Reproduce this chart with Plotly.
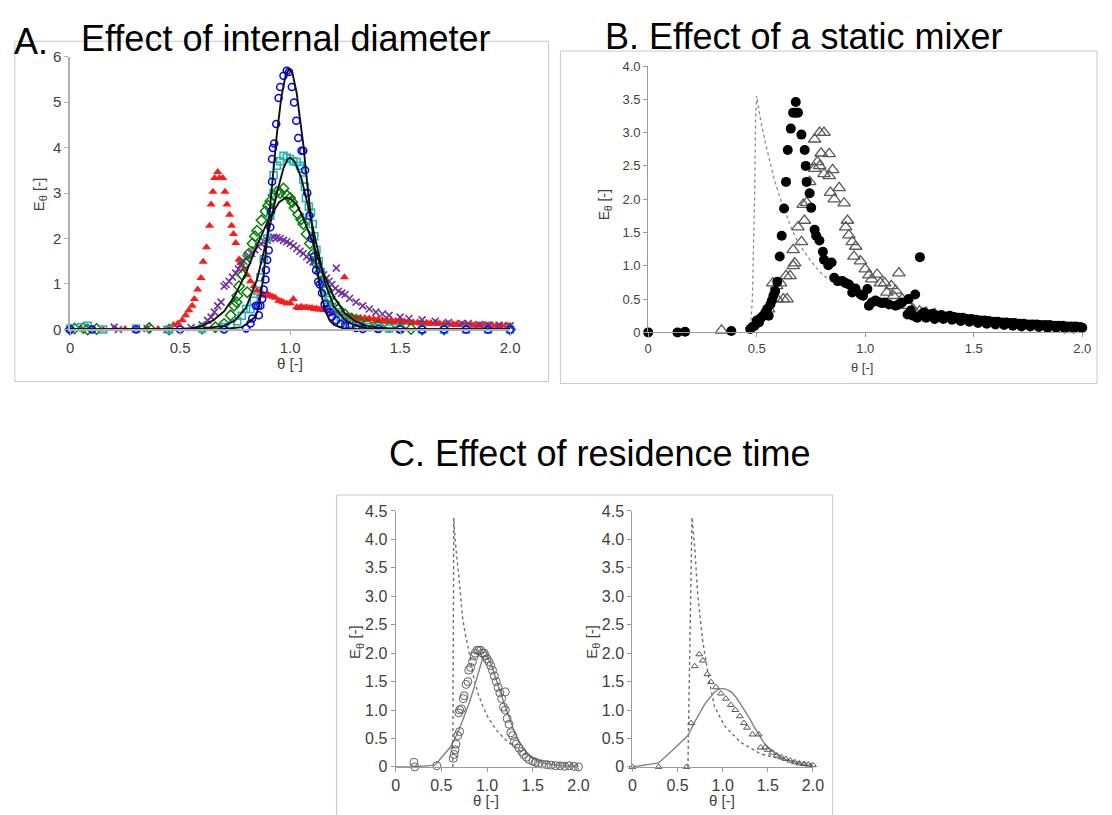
import plotly.graph_objects as go

# ---------------- DATA ----------------
TICK_A_X = [0, 0.5, 1.0, 1.5, 2.0]
TICK_A_X_TEXT = ["0", "0.5", "1.0", "1.5", "2.0"]
TICK_A_Y = [0, 1, 2, 3, 4, 5, 6]
TICK_A_Y_TEXT = ["0", "1", "2", "3", "4", "5", "6"]
TICK_B_Y = [0, 0.5, 1.0, 1.5, 2.0, 2.5, 3.0, 3.5, 4.0]
TICK_B_Y_TEXT = ["0", "0.5", "1.0", "1.5", "2.0", "2.5", "3.0", "3.5", "4.0"]
TICK_C_Y = [0, 0.5, 1.0, 1.5, 2.0, 2.5, 3.0, 3.5, 4.0, 4.5]
TICK_C_Y_TEXT = ["0", "0.5", "1.0", "1.5", "2.0", "2.5", "3.0", "3.5", "4.0", "4.5"]

# Panel A: effect of internal diameter (theta, E)
A_RED = [(0.00,0.00),(0.05,0.02),(0.10,0.01),(0.15,0.00),(0.20,0.02),(0.25,0.01),(0.30,0.00),(0.35,0.02),(0.40,0.01),(0.45,0.03),
         (0.47,0.10),(0.49,0.13),(0.51,0.20),(0.525,0.31),(0.54,0.42),(0.555,0.52),(0.565,0.67),(0.58,0.88),(0.595,1.13),(0.605,1.49),
         (0.62,1.81),(0.634,2.28),(0.641,2.75),(0.649,3.03),(0.657,3.33),(0.671,3.46),(0.679,3.33),(0.694,3.33),(0.704,3.03),(0.713,2.75),
         (0.725,2.52),(0.734,2.28),(0.743,2.10),(0.753,1.90),(0.768,1.54),(0.776,1.46),(0.79,1.33),(0.805,1.20),(0.82,1.06),(0.836,0.95),
         (0.85,0.85),(0.865,0.77),(0.876,0.78),(0.888,0.74),(0.90,0.77),(0.91,0.74),(0.922,0.72),(0.933,0.70),(0.948,0.63),(0.96,0.62),
         (0.97,0.60),(0.985,0.57),(1.00,0.58),(1.015,0.67),(1.03,0.49),(1.04,0.47),(1.05,0.50),(1.063,0.48),(1.075,0.49),(1.088,0.47),
         (1.10,0.47),(1.11,0.45),(1.12,0.46),(1.13,0.44),(1.14,0.44),(1.155,0.43),(1.17,0.42),(1.185,0.40),(1.20,0.37),(1.22,0.35),
         (1.247,1.15),(1.24,0.33),(1.26,0.30),(1.28,0.28),(1.30,0.27),(1.32,0.26),(1.34,0.25),(1.36,0.24),(1.38,0.23),(1.40,0.22),
         (1.42,0.21),(1.44,0.21),(1.46,0.20),(1.48,0.19),(1.50,0.18),(1.52,0.18),(1.54,0.17),(1.56,0.16),(1.58,0.16),(1.60,0.15),
         (1.62,0.15),(1.64,0.14),(1.66,0.14),(1.68,0.13),(1.70,0.13),(1.72,0.12),(1.74,0.12),(1.76,0.12),(1.78,0.11),(1.80,0.11),
         (1.82,0.11),(1.84,0.10),(1.86,0.10),(1.88,0.10),(1.90,0.10),(1.92,0.09),(1.94,0.09),(1.96,0.09),(1.98,0.09),(2.00,0.08),
         (1.25,0.25),(1.27,0.22),(1.31,0.20),(1.35,0.20),(1.39,0.18),(1.43,0.17),(1.47,0.15),(1.51,0.15),(1.55,0.14),(1.59,0.13),
         (1.63,0.12),(1.67,0.12),(1.71,0.10),(1.75,0.10),(1.79,0.09),(1.83,0.08),(1.87,0.08),(1.91,0.07),(1.95,0.07),(1.99,0.06)]
A_BLUE = [(0.00,0.00),(0.10,0.00),(0.30,0.00),(0.50,0.00),(0.70,0.00),(0.80,0.02),(0.82,0.13),(0.828,0.24),(0.845,0.52),(0.855,0.52),
          (0.865,0.52),(0.858,0.31),(0.873,0.67),(0.88,0.88),(0.888,1.10),(0.89,1.31),(0.896,1.53),(0.903,1.74),(0.91,2.25),(0.914,2.60),
          (0.918,3.25),(0.918,3.75),(0.922,3.99),(0.928,4.09),(0.937,4.52),(0.948,5.09),(0.955,5.33),(0.97,5.58),(0.985,5.69),(0.995,5.66),
          (1.008,5.33),(1.018,4.99),(1.028,4.59),(1.037,4.21),(1.052,3.93),(1.06,3.93),(1.068,3.50),(1.078,3.00),(1.088,2.50),(1.098,2.00),
          (1.108,1.60),(1.118,1.30),(1.128,1.05),(1.135,0.99),(1.145,0.80),(1.157,0.56),(1.168,0.45),(1.18,0.38),(1.19,0.28),(1.21,0.20),
          (1.23,0.12),(1.25,0.08),(1.27,0.06),(1.30,0.03),(1.33,0.01),(1.40,0.01),(1.50,0.00),(1.60,0.00),(1.70,0.00),(1.80,0.00),
          (1.90,0.00),(2.00,0.00)]
A_CYAN = [(0.00,0.02),(0.05,0.05),(0.08,0.08),(0.15,0.00),(0.30,0.02),(0.45,0.00),(0.60,0.02),(0.70,0.05),(0.73,0.10),(0.76,0.18),
          (0.78,0.30),(0.80,0.45),(0.82,0.45),(0.835,0.63),(0.85,0.85),(0.865,1.15),(0.88,1.55),(0.895,2.00),(0.91,2.50),(0.925,3.00),
          (0.925,3.39),(0.94,3.60),(0.955,3.70),(0.97,3.82),(0.985,3.78),(1.00,3.75),(1.015,3.70),(1.03,3.68),(1.045,3.60),(1.052,3.54),
          (1.06,3.30),(1.067,3.14),(1.072,2.89),(1.085,2.70),(1.095,2.57),(1.103,2.32),(1.11,2.05),(1.12,1.75),(1.13,1.50),(1.14,1.25),
          (1.15,1.02),(1.16,0.85),(1.175,0.65),(1.19,0.50),(1.21,0.38),(1.23,0.28),(1.25,0.20),(1.28,0.13),(1.31,0.08),(1.35,0.05),
          (1.40,0.03),(1.45,0.02),(1.50,0.01),(1.60,0.00),(1.70,0.00),(1.80,0.00),(1.90,0.00),(2.00,0.00)]
A_GREEN = [(0.00,0.00),(0.02,0.02),(0.04,-0.02),(0.06,0.03),(0.08,0.00),(0.12,0.01),(0.36,0.03),(0.45,0.00),(0.52,-0.05),(0.60,0.02),
           (0.66,0.05),(0.70,0.12),(0.73,0.31),(0.746,0.52),(0.76,0.74),(0.768,0.95),(0.783,1.20),(0.798,1.46),(0.813,1.67),(0.829,1.89),
           (0.84,2.05),(0.85,2.17),(0.87,2.40),(0.888,2.60),(0.90,2.72),(0.91,2.82),(0.925,2.95),(0.94,3.03),(0.955,3.00),(0.97,3.10),
           (0.985,2.95),(1.00,2.89),(1.01,2.80),(1.02,2.67),(1.037,2.53),(1.05,2.42),(1.06,2.32),(1.075,2.10),(1.09,1.89),(1.105,1.67),
           (1.12,1.45),(1.135,1.25),(1.15,1.05),(1.165,0.88),(1.18,0.72),(1.20,0.58),(1.22,0.45),(1.25,0.33),(1.28,0.24),(1.31,0.18),
           (1.35,0.12),(1.40,0.08),(1.45,0.05),(1.50,0.03),(1.55,0.01),(1.60,0.00),(1.65,-0.01),(1.70,0.00),(1.75,-0.02),(1.80,-0.01),
           (1.85,-0.02),(1.90,-0.01),(1.95,-0.02),(2.00,0.00),(0.805,0.82),(0.757,0.60)]
A_PURPLE = [(0.20,0.05),(0.22,0.00),(0.35,0.02),(0.44,0.00),(0.55,0.04),(0.60,0.10),(0.625,0.20),(0.641,0.27),(0.656,0.38),(0.671,0.52),
            (0.686,0.60),(0.70,0.95),(0.709,0.99),(0.723,1.06),(0.738,1.15),(0.753,1.24),(0.765,1.33),(0.776,1.42),(0.79,1.50),(0.80,1.56),
            (0.812,1.62),(0.825,1.67),(0.84,1.75),(0.855,1.82),(0.868,1.89),(0.882,1.93),(0.896,1.96),(0.91,2.00),(0.925,2.03),(0.94,2.02),
            (0.955,2.00),(0.97,1.96),(0.985,1.93),(1.00,1.89),(1.015,1.84),(1.03,1.78),(1.045,1.72),(1.06,1.67),(1.075,1.60),(1.09,1.53),
            (1.105,1.48),(1.12,1.42),(1.13,1.35),(1.14,1.28),(1.152,1.20),(1.165,1.13),(1.177,1.06),(1.19,0.99),(1.21,1.35),(1.205,0.90),
            (1.22,0.84),(1.235,0.80),(1.25,0.77),(1.27,0.68),(1.30,0.60),(1.33,0.52),(1.36,0.45),(1.39,0.38),(1.42,0.34),(1.45,0.31),
            (1.50,0.27),(1.54,0.24),(1.60,0.21),(1.66,0.18),(1.72,0.15),(1.78,0.13),(1.81,0.13),(1.86,0.11),(1.90,0.10),(1.95,0.09),(2.00,0.08)]
A_FIT1 = [(0.00,0.00),(0.50,0.00),(0.70,0.01),(0.78,0.05),(0.82,0.18),(0.845,0.30),(0.86,0.55),(0.88,1.20),(0.90,2.20),(0.92,3.20),
          (0.94,4.30),(0.96,5.10),(0.98,5.60),(0.995,5.72),(1.01,5.65),(1.03,5.20),(1.05,4.50),(1.06,4.07),(1.08,3.10),(1.10,2.20),
          (1.12,1.40),(1.14,0.80),(1.16,0.42),(1.18,0.20),(1.20,0.10),(1.24,0.03),(1.30,0.01),(1.40,0.00),(2.00,0.00)]
A_FIT2 = [(0.00,0.00),(0.50,0.00),(0.60,0.02),(0.70,0.08),(0.75,0.20),(0.80,0.48),(0.85,1.10),(0.90,2.10),(0.94,3.00),(0.97,3.55),
          (0.99,3.75),(1.00,3.78),(1.02,3.70),(1.05,3.35),(1.08,2.75),(1.10,2.30),(1.13,1.60),(1.16,1.00),(1.20,0.50),(1.25,0.20),
          (1.30,0.08),(1.35,0.03),(1.45,0.00),(2.00,0.00)]
A_FIT3 = [(0.00,0.00),(0.45,0.00),(0.55,0.03),(0.60,0.08),(0.65,0.20),(0.70,0.40),(0.75,0.75),(0.80,1.25),(0.85,1.85),(0.90,2.40),
          (0.95,2.80),(0.98,2.90),(1.00,2.88),(1.03,2.75),(1.06,2.45),(1.10,1.95),(1.15,1.25),(1.20,0.70),(1.25,0.35),(1.30,0.17),
          (1.35,0.08),(1.40,0.04),(1.50,0.01),(2.00,0.00)]

# Panel B: effect of a static mixer
B_CIRCLES = [(0.00,0.00),(0.135,0.00),(0.17,0.01),(0.383,0.02),(0.47,0.05),(0.48,0.08),(0.49,0.10),(0.50,0.18),(0.51,0.15),(0.52,0.22),
             (0.53,0.25),(0.54,0.30),(0.548,0.35),(0.555,0.25),(0.563,0.42),(0.57,0.48),(0.577,0.55),(0.585,0.62),(0.595,0.76),(0.606,1.14),
             (0.615,1.45),(0.626,1.86),(0.635,2.26),(0.643,2.74),(0.657,3.06),(0.668,3.30),(0.68,3.46),(0.68,3.30),(0.69,3.30),(0.706,2.97),
             (0.721,2.74),(0.726,2.50),(0.73,2.26),(0.744,2.09),(0.751,1.87),(0.767,1.54),(0.774,1.45),(0.789,1.38),(0.805,1.21),(0.81,1.09),
             (0.83,1.01),(0.845,1.05),(0.857,0.82),(0.873,0.77),(0.895,0.77),(0.91,0.74),(0.925,0.72),(0.94,0.60),(0.955,0.66),(0.979,0.57),
             (0.99,0.55),(1.01,0.65),(1.017,0.40),(1.03,0.45),(1.047,0.48),(1.06,0.46),(1.077,0.44),(1.09,0.45),(1.11,0.42),(1.14,0.40),
             (1.155,0.42),(1.17,0.45),(1.195,0.27),(1.20,0.50),(1.21,0.33),(1.23,0.57),(1.252,1.13),(1.22,0.25),(1.24,0.22),(1.26,0.27),
             (1.27,0.30),(1.29,0.27),(1.31,0.28),(1.33,0.25),(1.35,0.26),(1.37,0.24),(1.39,0.25),(1.41,0.23),(1.43,0.22),(1.45,0.22),
             (1.47,0.20),(1.49,0.20),(1.51,0.19),(1.53,0.18),(1.55,0.18),(1.57,0.17),(1.59,0.16),(1.61,0.16),(1.63,0.15),(1.65,0.15),
             (1.67,0.14),(1.69,0.14),(1.71,0.13),(1.73,0.13),(1.75,0.12),(1.77,0.12),(1.79,0.12),(1.81,0.11),(1.83,0.11),(1.85,0.11),
             (1.87,0.10),(1.89,0.10),(1.91,0.10),(1.93,0.09),(1.95,0.09),(1.97,0.09),(1.99,0.08),(2.00,0.07),
             (1.28,0.22),(1.32,0.20),(1.36,0.20),(1.40,0.19),(1.44,0.17),(1.48,0.16),(1.52,0.14),(1.56,0.13),(1.60,0.12),(1.64,0.11),
             (1.68,0.10),(1.72,0.09),(1.76,0.09),(1.80,0.08),(1.84,0.07),(1.88,0.07),(1.92,0.06),(1.96,0.06)]
B_TRIANGLES = [(0.338,0.03),(0.555,0.35),(0.574,0.74),(0.592,0.70),(0.61,0.74),(0.595,0.50),(0.623,0.50),(0.64,0.50),(0.635,0.85),(0.654,0.85),
               (0.668,1.00),(0.675,1.04),(0.668,1.24),(0.706,1.36),(0.69,1.58),(0.72,1.68),(0.714,1.92),(0.73,1.95),(0.744,2.26),(0.767,2.46),
               (0.78,2.56),(0.797,2.69),(0.79,2.50),(0.81,2.38),(0.834,2.35),(0.767,2.90),(0.79,3.00),(0.81,3.00),(0.834,2.68),(0.85,2.44),
               (0.84,2.10),(0.857,2.00),(0.88,2.17),(0.903,1.94),(0.918,1.68),(0.91,1.58),(0.925,1.46),(0.94,1.36),(0.956,1.29),(0.948,1.14),
               (0.978,1.07),(1.00,0.95),(1.017,0.86),(1.03,0.80),(1.055,0.87),(1.07,0.74),(1.09,0.74),(1.12,0.70),(1.155,0.89),(1.14,0.63),
               (1.10,0.60),(1.13,0.55),(1.17,0.50),(1.20,0.40),(1.22,0.35),(1.25,0.32),(1.28,0.30),(1.32,0.28)]
B_MODEL = [(0.47,0.00),(0.48,0.50),(0.49,2.00),(0.495,3.20),(0.50,3.55),(0.51,3.35),(0.52,3.15),(0.54,2.85),(0.56,2.55),(0.58,2.30),
           (0.60,2.10),(0.62,1.90),(0.65,1.65),(0.68,1.42),(0.70,1.30),(0.72,1.20),(0.75,1.07),(0.78,0.95),(0.80,0.88),(0.83,0.80)]

# Panel C: effect of residence time (left and right)
C1_CIRCLES = [(0.20,0.08),(0.21,0.00),(0.45,0.02),(0.63,0.15),(0.64,0.22),(0.65,0.30),(0.66,0.40),(0.68,0.55),(0.70,0.62),(0.69,0.95),
              (0.70,1.00),(0.72,1.02),(0.74,1.20),(0.75,1.25),(0.77,1.45),(0.79,1.50),(0.80,1.70),(0.82,1.75),(0.84,1.85),(0.86,1.95),
              (0.87,2.00),(0.89,2.05),(0.91,2.05),(0.93,2.05),(0.95,2.00),(0.97,2.00),(0.98,1.95),(1.00,1.90),(1.02,1.85),(1.04,1.78),
              (1.06,1.70),(1.08,1.60),(1.10,1.50),(1.12,1.40),(1.14,1.30),(1.16,1.20),(1.20,1.32),(1.18,1.05),(1.20,1.00),(1.22,0.85),
              (1.24,0.75),(1.26,0.60),(1.28,0.55),(1.30,0.45),(1.32,0.40),(1.35,0.33),(1.38,0.27),(1.40,0.22),(1.43,0.17),(1.46,0.13),
              (1.50,0.10),(1.53,0.08),(1.56,0.06),(1.60,0.05),(1.65,0.04),(1.70,0.03),(1.75,0.02),(1.80,0.02),(1.85,0.01),(1.90,0.02),
              (1.95,0.01),(2.00,0.00)]
C1_FIT = [(0.00,0.00),(0.20,0.00),(0.43,0.03),(0.60,0.35),(0.68,0.60),(0.75,0.88),(0.80,1.10),(0.85,1.35),(0.90,1.62),(0.95,1.90),
          (0.97,1.96),(1.00,1.94),(1.05,1.78),(1.10,1.55),(1.15,1.30),(1.20,1.05),(1.25,0.82),(1.30,0.62),(1.35,0.45),(1.40,0.32),
          (1.45,0.22),(1.50,0.15),(1.60,0.07),(1.70,0.04),(1.80,0.02),(2.00,0.01)]
C1_MODEL = [(0.625,0.00),(0.628,1.00),(0.632,3.00),(0.636,4.38),(0.65,4.00),(0.67,3.70),(0.70,3.20),(0.73,2.65),(0.76,2.35),(0.80,2.05),
            (0.85,1.60),(0.90,1.30),(0.95,1.08),(1.00,0.90),(1.10,0.65),(1.20,0.48),(1.30,0.35),(1.40,0.24),(1.50,0.16),(1.60,0.11),
            (1.70,0.08),(1.80,0.06),(1.90,0.05),(2.00,0.04)]
C2_TRIANGLES = [(0.00,0.00),(0.29,0.00),(0.60,0.00),(0.65,0.77),(0.69,1.77),(0.74,1.98),(0.78,1.87),(0.83,1.63),(0.87,1.49),(0.925,1.40),
                (0.98,1.29),(1.035,1.20),(1.09,1.09),(1.14,1.00),(1.19,0.89),(1.235,0.77),(1.27,0.69),(1.33,0.57),(1.40,0.57),(1.42,0.34),
                (1.47,0.34),(1.50,0.30),(1.55,0.25),(1.60,0.20),(1.65,0.17),(1.70,0.14),(1.75,0.11),(1.80,0.08),(1.85,0.06),(1.90,0.05),
                (1.95,0.04),(2.00,0.03)]
C2_FIT = [(0.00,0.00),(0.29,0.07),(0.45,0.30),(0.615,0.55),(0.70,0.82),(0.80,1.10),(0.90,1.30),(0.95,1.36),(1.00,1.38),(1.05,1.36),
          (1.10,1.31),(1.15,1.22),(1.20,1.10),(1.25,0.98),(1.30,0.85),(1.35,0.70),(1.40,0.56),(1.45,0.44),(1.50,0.35),(1.60,0.22),
          (1.70,0.13),(1.80,0.08),(1.90,0.04),(2.00,0.03)]
C2_MODEL = [(0.615,0.00),(0.625,1.00),(0.64,3.00),(0.66,4.39),(0.69,3.87),(0.725,3.00),(0.78,2.20),(0.85,1.52),(0.91,1.06),(1.02,0.72),
            (1.20,0.43),(1.42,0.23),(1.64,0.14),(2.00,0.05)]

# ---------------- LAYOUT HELPERS ----------------
W, H = 1112, 815
FONT = "Liberation Sans, Arial, sans-serif"


def fx(p):
    return p / W


def fy(p):
    return 1 - p / H


def xs(pairs):
    return [p[0] for p in pairs]


def ys(pairs):
    return [p[1] for p in pairs]


fig = go.Figure()


def markers(pairs, xa, ya, symbol, size, color, lw=1.2, fill=None):
    m = dict(symbol=symbol, size=size, color=fill if fill else color, line=dict(color=color, width=lw))
    fig.add_trace(go.Scatter(x=xs(pairs), y=ys(pairs), mode="markers", marker=m,
                             xaxis=xa, yaxis=ya, cliponaxis=False, showlegend=False, hoverinfo="skip"))


def line(pairs, xa, ya, color, width, dash="solid"):
    fig.add_trace(go.Scatter(x=xs(pairs), y=ys(pairs), mode="lines", line=dict(color=color, width=width, dash=dash),
                             xaxis=xa, yaxis=ya, cliponaxis=False, showlegend=False, hoverinfo="skip"))


# Panel A
markers(A_RED, "x", "y", "triangle-up", 8, "#ff1a1a", lw=0)
markers(A_PURPLE, "x", "y", "x-thin-open", 7, "#7030a0", lw=1.6)
markers(A_GREEN, "x", "y", "diamond-open", 8, "#008000", lw=1.5)
markers(A_CYAN, "x", "y", "square-open", 7, "#1fb5b5", lw=1.5)
markers(A_BLUE, "x", "y", "circle-open", 7, "#0000ff", lw=1.5)
line(A_FIT3, "x", "y", "#111111", 1.9)
line(A_FIT2, "x", "y", "#111111", 1.9)
line(A_FIT1, "x", "y", "#111111", 1.9)

# Panel B
line(B_MODEL, "x2", "y2", "#8a8a8a", 1.3, "dot")
markers(B_TRIANGLES, "x2", "y2", "triangle-up-open", 11, "#5a5a5a", lw=1.3)
markers(B_CIRCLES, "x2", "y2", "circle", 10, "#000000", lw=0)

# Panel C left
line(C1_MODEL, "x3", "y3", "#707070", 1.4, "dot")
line(C1_FIT, "x3", "y3", "#808080", 1.4)
markers(C1_CIRCLES, "x3", "y3", "circle-open", 8, "#606060", lw=1.0)

# Panel C right
line(C2_MODEL, "x4", "y4", "#707070", 1.4, "dot")
line(C2_FIT, "x4", "y4", "#808080", 1.4)
markers(C2_TRIANGLES, "x4", "y4", "triangle-up-open", 6, "#555555", lw=1.0)


def axis(dom, rng, tv, tt, anchor, size, lc="#9a9a9a", lw=1.2):
    return dict(domain=dom, range=rng, tickvals=tv, ticktext=tt, anchor=anchor,
                showgrid=False, zeroline=False, showline=True, linecolor=lc, linewidth=lw,
                ticks="outside", ticklen=4, tickcolor=lc, tickwidth=1,
                tickfont=dict(family=FONT, size=size, color="#404040"), fixedrange=True)


fig.update_layout(
    width=W, height=H, margin=dict(l=0, r=0, t=0, b=0),
    paper_bgcolor="white", plot_bgcolor="white", showlegend=False,
    xaxis=axis([fx(67), fx(513)], [0, 2.0], TICK_A_X, TICK_A_X_TEXT, "y", 15, "#b0b0b0", 2),
    yaxis=axis([fy(327.7), fy(48.7)], [0, 6], TICK_A_Y, TICK_A_Y_TEXT, "x", 15, "#b0b0b0", 1.5),
    xaxis2=axis([fx(653), fx(1093)], [0, 2.0], TICK_A_X, TICK_A_X_TEXT, "y2", 13),
    yaxis2=axis([fy(330.7), fy(58.3)], [0, 4.0], TICK_B_Y, TICK_B_Y_TEXT, "x2", 13),
    xaxis3=axis([fx(397), fx(582.3)], [0, 2.0], TICK_A_X, TICK_A_X_TEXT, "y3", 16),
    yaxis3=axis([fy(775), fy(513.3)], [0, 4.5], TICK_C_Y, TICK_C_Y_TEXT, "x3", 16),
    xaxis4=axis([fx(637), fx(820)], [0, 2.0], TICK_A_X, TICK_A_X_TEXT, "y4", 16),
    yaxis4=axis([fy(775), fy(513.3)], [0, 4.5], TICK_C_Y, TICK_C_Y_TEXT, "x4", 16),
)

# frames around panels
for (x0, y0, x1, y1) in [(11, 33, 552, 381), (564, 43, 1108, 383), (337, 497, 840, 830)]:
    fig.add_shape(type="rect", xref="paper", yref="paper", x0=fx(x0), x1=fx(x1), y0=fy(y1), y1=fy(y0),
                  line=dict(color="#c8c8c8", width=1), fillcolor="rgba(0,0,0,0)", layer="below")


def text(t, x, y, size, color="#000000", xanchor="center", angle=0):
    fig.add_annotation(text=t, x=fx(x), y=fy(y), xref="paper", yref="paper", showarrow=False,
                       xanchor=xanchor, yanchor="middle", textangle=angle,
                       font=dict(family=FONT, size=size, color=color))


def etheta(size):
    sub = int(round(size * 0.72))
    return "E<sub><span style='font-size:%dpx'>θ</span></sub> [-]" % sub


# titles
text("A.", 8, 33, 36, xanchor="left")
text("Effect of internal diameter", 76, 30, 36, xanchor="left")
text("B. Effect of a static mixer", 607, 28, 36, xanchor="left")
text("C. Effect of residence time", 388, 455, 36, xanchor="left")

# axis titles
text("θ [-]", 290, 363, 15, "#404040")
text(etheta(15), 36, 190, 15, "#404040", angle=-90)
text("θ [-]", 870, 367, 13, "#404040")
text(etheta(14), 609, 200, 14, "#404040", angle=-90)
text("θ [-]", 489, 809, 15, "#404040")
text(etheta(15), 357, 647, 15, "#404040", angle=-90)
text("θ [-]", 728, 809, 15, "#404040")
text(etheta(15), 597, 647, 15, "#404040", angle=-90)

fig.write_html("out.html", config={"displayModeBar": False},
               post_script="document.body.style.margin='0';document.body.style.overflow='hidden';")
